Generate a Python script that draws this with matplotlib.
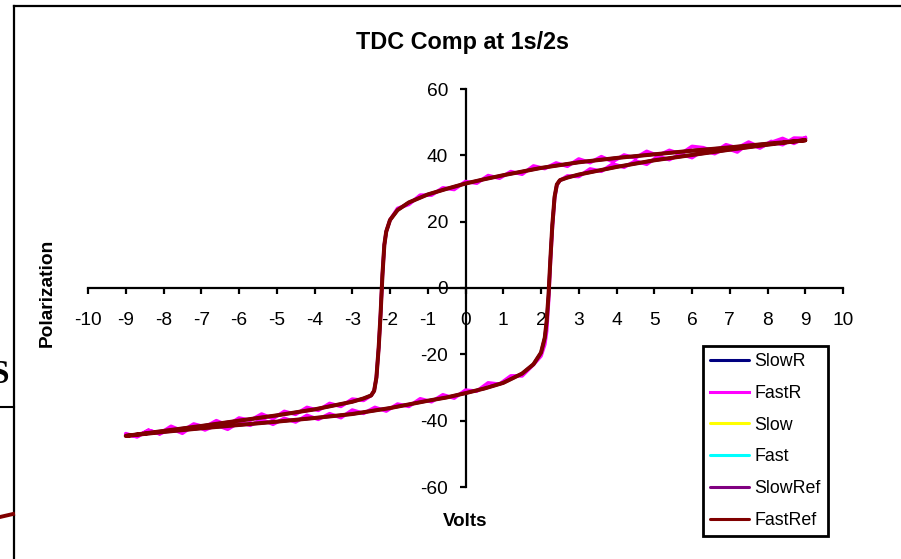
import matplotlib
matplotlib.use('Agg')
import matplotlib.pyplot as plt
from matplotlib.lines import Line2D
import numpy as np

plt.rcParams['font.family'] = ['Liberation Sans', 'DejaVu Sans']
plt.rcParams['axes.unicode_minus'] = False

# reference loop, falling branch (+9V -> -9V)
dn_v = [9.0, 8.0, 7.0, 6.0, 5.0, 4.0, 3.0, 2.0, 1.0, 0.5, 0.0, -0.5, -1.0, -1.5, -1.8, -2.0,
        -2.1, -2.15, -2.2, -2.25, -2.3, -2.36, -2.42, -2.5, -2.7, -3.0, -4.0, -5.0, -6.0,
        -7.0, -8.0, -9.0]
dn_p = [44.5, 43.5, 42.4, 41.4, 40.3, 39.2, 37.9, 36.2, 34.0, 32.8, 31.5, 29.9, 28.2, 25.8,
        23.5, 20.5, 17.0, 13.0, 4.0, -8.0, -18.0, -27.0, -31.0, -32.4, -33.3, -34.3, -36.6,
        -38.4, -40.0, -41.6, -43.1, -44.6]
# reference loop, rising branch (-9V -> +9V)
up_v = [-9.0, -8.0, -7.0, -6.0, -5.0, -4.0, -3.0, -2.0, -1.0, -0.5, 0.0, 0.5, 1.0, 1.5, 1.8,
        2.0, 2.1, 2.15, 2.2, 2.25, 2.3, 2.36, 2.42, 2.5, 2.7, 3.0, 4.0, 5.0, 6.0, 7.0, 8.0, 9.0]
up_p = [-44.6, -43.4, -42.3, -41.3, -40.3, -39.2, -38.0, -36.2, -34.0, -33.0, -31.7, -30.3,
        -28.6, -25.8, -23.0, -19.5, -15.0, -10.0, -2.0, 9.0, 19.0, 27.5, 31.2, 32.5, 33.3,
        34.2, 36.5, 38.5, 40.1, 41.7, 43.2, 44.6]

# raw fast sweep (noisy), voltage steps of the sweep
sweep_v = [9.0, 8.7, 8.4, 8.1, 7.8, 7.5, 7.2, 6.9, 6.6, 6.3, 6.0, 5.7, 5.4, 5.1, 4.8, 4.5,
           4.2, 3.9, 3.6, 3.3, 3.0, 2.7, 2.4, 2.1, 1.8, 1.5, 1.2, 0.9, 0.6, 0.3, 0.0, -0.3,
           -0.6, -0.9, -1.2, -1.5, -1.8, -2.0, -2.1, -2.15, -2.2, -2.25, -2.3, -2.36, -2.42,
           -2.5, -2.7, -3.0, -3.3, -3.6, -3.9, -4.2, -4.5, -4.8, -5.1, -5.4, -5.7, -6.0, -6.3,
           -6.6, -6.9, -7.2, -7.5, -7.8, -8.1, -8.4, -8.7, -9.0]
fastr_dn = [45.3, 43.6, 45.1, 43.9, 42.5, 44.0, 42.2, 43.2, 41.1, 42.3, 42.7, 40.4, 41.5,
            39.9, 41.2, 39.2, 40.1, 38.1, 39.6, 37.8, 38.9, 36.7, 37.7, 36.0, 36.8, 34.3,
            35.1, 33.1, 33.9, 31.6, 32.1, 29.7, 30.2, 28.0, 28.0, 25.2, 24.0, 20.5, 17.0,
            13.0, 4.0, -8.0, -18.0, -27.0, -31.0, -32.4, -33.9, -33.5, -35.7, -34.8, -36.9,
            -36.0, -38.1, -37.2, -39.4, -38.0, -39.9, -39.2, -41.4, -40.0, -41.9, -41.0,
            -43.1, -41.7, -43.9, -42.9, -44.7, -44.2]
fastr_up = [-43.9, -44.9, -42.9, -44.0, -42.4, -43.8, -41.4, -42.8, -41.3, -42.6, -40.5,
            -41.4, -39.6, -41.1, -39.3, -40.4, -38.4, -39.6, -37.9, -39.1, -36.8, -37.8,
            -36.0, -37.1, -35.0, -35.7, -33.4, -34.3, -32.2, -33.2, -30.8, -31.1, -28.6,
            -29.0, -26.5, -26.5, -23.1, -20.5, -17.0, -13.0, -4.0, 8.0, 18.0, 27.0, 31.0,
            32.4, 33.8, 33.6, 35.9, 35.2, 37.4, 36.4, 38.3, 37.3, 39.7, 38.7, 40.4, 39.3,
            41.5, 40.5, 42.2, 41.0, 43.6, 42.2, 44.2, 43.2, 45.2, 45.1]

names = ['SlowR', 'FastR', 'Slow', 'Fast', 'SlowRef', 'FastRef']
colors = ['#000080', '#ff00ff', '#ffff00', '#00ffff', '#800080', '#800000']
widths = [2.0, 2.6, 2.0, 2.0, 2.4, 2.9]

loop_v = np.r_[dn_v, up_v]
loop_p = np.r_[dn_p, up_p]
fast_v = np.r_[sweep_v, [-v for v in sweep_v]]
fast_p = np.r_[fastr_dn, fastr_up]

fig = plt.figure(figsize=(9.01, 5.59), dpi=100)
fig.patch.set_facecolor('white')
ax = fig.add_axes([88/901, 72/559, 755/901, 398/559])

for nm, c, lw in zip(names, colors, widths):
    if nm == 'FastR':
        ax.plot(fast_v, fast_p, color=c, lw=lw, label=nm)
    else:
        ax.plot(loop_v, loop_p, color=c, lw=lw, label=nm, solid_capstyle='round')

ax.set_xlim(-10, 10)
ax.set_ylim(-60, 60)
ax.set_xticks(range(-10, 11))
ax.set_yticks(range(-60, 61, 20))

# excel style crossing axes
ax.spines['left'].set_position(('data', 0))
ax.spines['bottom'].set_position(('data', 0))
ax.spines['top'].set_visible(False)
ax.spines['right'].set_visible(False)
for s in ['left', 'bottom']:
    ax.spines[s].set_linewidth(1.6)
    ax.spines[s].set_zorder(1)
ax.tick_params(axis='x', direction='out', length=4, width=1.6, pad=13, labelsize=13.8)
ax.tick_params(axis='y', direction='out', length=4.5, width=1.6, pad=8, labelsize=13.8)
ax.patch.set_alpha(0)

fig.text(462/901, 1 - 43/559, 'TDC Comp at 1s/2s', ha='center', va='center',
         fontsize=16.8, fontweight='bold')
fig.text(465/901, 1 - 522/559, 'Volts', ha='center', va='center',
         fontsize=13.5, fontweight='bold')
fig.text(47/901, 1 - 293/559, 'Polarization', ha='center', va='center',
         rotation=90, fontsize=13.8, fontweight='bold')

leg = ax.legend(loc='upper left', bbox_to_anchor=(703/901, 1 - 346/559),
                bbox_transform=fig.transFigure, borderaxespad=0, fancybox=False,
                framealpha=1, edgecolor='black', fontsize=12.8, handlelength=2.2,
                handletextpad=0.3, labelspacing=0.83, borderpad=0.4)
leg.get_frame().set_linewidth(2)
for h in leg.get_lines():
    h.set_linewidth(2.2)

# chart border, plus the edge of the chart sitting behind
fig.add_artist(Line2D([14/901, 14/901], [0, 1 - 6/559], transform=fig.transFigure,
                      color='black', lw=1.6))
fig.add_artist(Line2D([14/901, 1], [1 - 6/559, 1 - 6/559], transform=fig.transFigure,
                      color='black', lw=1.6))
fig.add_artist(Line2D([0, 14/901], [1 - 407/559, 1 - 407/559], transform=fig.transFigure,
                      color='black', lw=1.5))
fig.add_artist(Line2D([0, 13/901], [1 - 517/559, 1 - 514/559], transform=fig.transFigure,
                      color='#800000', lw=2.8))
fig.text(9/901, 1 - 383/559, 'S', ha='right', va='baseline', fontsize=24,
         fontweight='bold', family='Liberation Serif')

fig.savefig('out.png', dpi=100)
